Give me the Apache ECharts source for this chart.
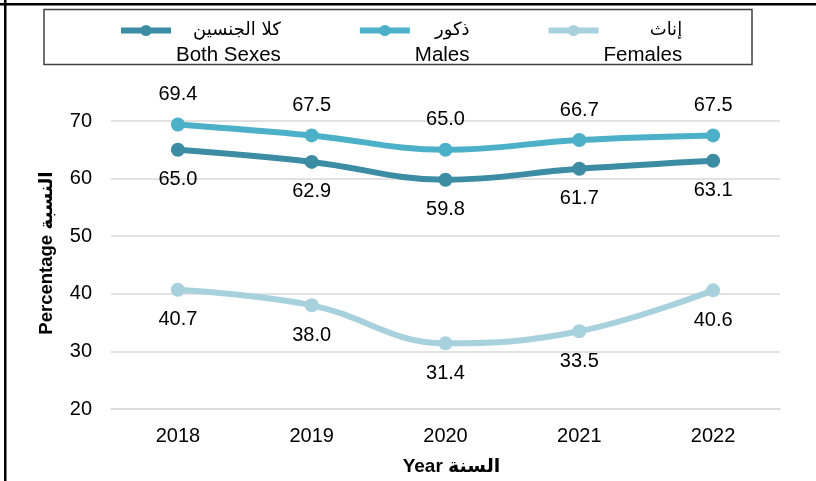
<!DOCTYPE html>
<html>
<head>
<meta charset="utf-8">
<script src="https://cdn.jsdelivr.net/npm/echarts@6/dist/echarts.min.js"></script>
<style>
    html, body { margin: 0; padding: 0; background: #fff; }
    #chart { width: 816px; height: 481px; }
</style>
</head>
<body>
<div id="chart"></div>
<script>
    // 年份
    const years = ['2018', '2019', '2020', '2021', '2022']
    // 各系列数值 (%)
    const bothSexes = [65.0, 62.9, 59.8, 61.7, 63.1]
    const males = [69.4, 67.5, 65.0, 66.7, 67.5]
    const females = [40.7, 38.0, 31.4, 33.5, 40.6]
    // 图例文字: [阿拉伯语, 英语]
    const seriesNames = ['Both Sexes', 'Males', 'Females']
    const arabicNames = ['كلا الجنسين', 'ذكور', 'إناث']
    const seriesColors = ['#3c8ca3', '#4cb0c9', '#a8d1de']

    const FONT = '"Liberation Sans", Arial, "DejaVu Sans", sans-serif'

    function makeSeries (idx, data, labelPos) {
        return {
            name: seriesNames[idx],
            type: 'line',
            data: data,
            smooth: 0.4,
            symbol: 'circle',
            symbolSize: 14,
            color: seriesColors[idx],
            lineStyle: { width: 6, color: seriesColors[idx] },
            itemStyle: { color: seriesColors[idx] },
            label: {
                show: true,
                position: labelPos,
                distance: 13,
                color: '#000',
                fontSize: 20,
                fontFamily: FONT,
                formatter: p => p.value.toFixed(1)
            }
        }
    }

    const chart = echarts.init(document.getElementById('chart'))
    chart.setOption({
        animation: false,
        textStyle: { fontFamily: FONT },
        graphic: [
            { type: 'rect', shape: { x: 0, y: 3, width: 816, height: 2.5 }, style: { fill: '#000' } },
            { type: 'rect', shape: { x: 4, y: 0, width: 2.5, height: 481 }, style: { fill: '#000' } },
            {
                type: 'rect',
                shape: { x: 44, y: 9.5, width: 708, height: 55 },
                style: { fill: 'none', stroke: '#404040', lineWidth: 1.5 }
            }
        ],
        legend: {
            left: 113,
            top: -12,
            itemWidth: 50,
            itemHeight: 14,
            itemGap: 76,
            data: seriesNames,
            lineStyle: { width: 6 },
            itemStyle: { borderWidth: 0 },
            formatter: name => {
                const i = seriesNames.indexOf(name)
                return '{gap|}\n{ar|' + arabicNames[i] + '}\n{en|' + name + '}'
            },
            textStyle: {
                rich: {
                    gap: { height: 25, lineHeight: 25 },
                    ar: { fontSize: 18, lineHeight: 25, color: '#000', align: 'right', fontFamily: '"DejaVu Sans", sans-serif' },
                    en: { fontSize: 20.5, lineHeight: 25, color: '#000', align: 'right', fontFamily: FONT }
                }
            }
        },
        grid: {
            left: 111,
            right: 36,
            top: 121,
            bottom: 72
        },
        xAxis: {
            type: 'category',
            data: years,
            boundaryGap: true,
            name: 'Year السنة',
            nameLocation: 'middle',
            nameGap: 48,
            nameTextStyle: { fontSize: 19, fontWeight: 'bold', color: '#000', fontFamily: FONT, padding: [0, 0, 0, 12] },
            axisLine: { lineStyle: { color: '#d9d9d9', width: 1.5 } },
            axisTick: { show: false },
            axisLabel: { color: '#000', fontSize: 20, margin: 17, fontFamily: FONT }
        },
        yAxis: {
            type: 'value',
            min: 20,
            max: 70,
            interval: 10,
            name: 'Percentage النسبة',
            nameLocation: 'middle',
            nameRotate: 90,
            nameGap: 55,
            nameTextStyle: { fontSize: 18.5, fontWeight: 'bold', color: '#000', fontFamily: FONT, padding: [0, 0, 0, 24] },
            axisLine: { show: false },
            axisTick: { show: false },
            axisLabel: { color: '#000', fontSize: 20, margin: 19, fontFamily: FONT },
            splitLine: { lineStyle: { color: '#d9d9d9', width: 1.5 } }
        },
        series: [
            makeSeries(0, bothSexes, 'bottom'),
            makeSeries(1, males, 'top'),
            makeSeries(2, females, 'bottom')
        ]
    })
</script>
</body>
</html>
